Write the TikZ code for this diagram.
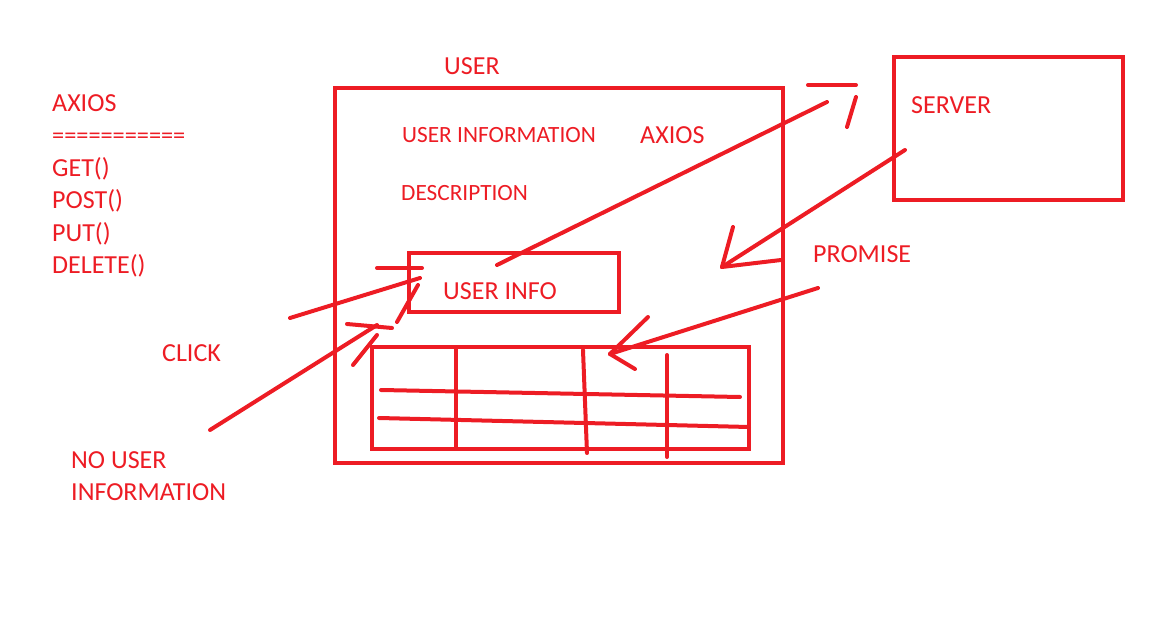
\documentclass[tikz,border=0pt]{standalone}
\usepackage{fontspec}
\setmainfont{Carlito}
\definecolor{paintred}{RGB}{237,28,36}
\begin{document}
\begin{tikzpicture}[x=1pt, y=-1pt,
  box/.style={shape=rectangle, draw=paintred, line width=4pt, inner sep=0pt},
  lbl/.style={anchor=base west, inner sep=0pt, text=paintred, font=\fontsize{26}{30}\selectfont},
  lblsmall/.style={lbl, font=\fontsize{23.3}{27}\selectfont},
  stroke/.style={draw=paintred, line width=4pt, line cap=round}]
\useasboundingbox (0,0) rectangle (1152,639);
% boxes
\node[box, minimum width=448pt, minimum height=375pt] (user) at (559,275.5) {};
\node[box, minimum width=229pt, minimum height=143pt] (server) at (1008.5,128.5) {};
\node[box, minimum width=210pt, minimum height=59pt] (info) at (514,282.5) {};
\node[box, minimum width=377pt, minimum height=102pt] (table) at (560.5,398) {};
% texts
\node[lbl] (usertitle) at (444,75) {USER};
\node[lbl] (axioslist) at (52,112) {AXIOS};
\node[lbl, font=\fontsize{24.3}{28}\selectfont] (rule) at (52,144) {===========};
\node[lbl] (get) at (52,177) {GET()};
\node[lbl] (post) at (52,209) {POST()};
\node[lbl] (put) at (52,242) {PUT()};
\node[lbl] (delete) at (52,274) {DELETE()};
\node[lblsmall] (userinformation) at (402,143) {USER INFORMATION};
\node[lbl] (axios) at (640,144) {AXIOS};
\node[lblsmall] (description) at (401,201) {DESCRIPTION};
\node[lbl] (servertext) at (911,114) {SERVER};
\node[lbl] (promise) at (813,263) {PROMISE};
\node[lbl] (infotext) at (443,300) {USER INFO};
\node[lbl] (click) at (162,361) {CLICK};
\node[lbl] (nouser) at (71,468) {NO USER};
\node[lbl] (noinfo) at (71,500) {INFORMATION};
% table grid
\coordinate (h1a) at (381,390); \coordinate (h1b) at (740,397);
\coordinate (h2a) at (379,418); \coordinate (h2b) at (749,427);
\coordinate (v1a) at (456,348); \coordinate (v1b) at (456,447);
\coordinate (v2a) at (583,350); \coordinate (v2b) at (587,453);
\coordinate (v3a) at (667,355); \coordinate (v3b) at (667,457);
\path [stroke] (h1a) edge (h1b);
\path [stroke] (h2a) edge (h2b);
\path [stroke] (v1a) edge (v1b);
\path [stroke] (v2a) edge (v2b);
\path [stroke] (v3a) edge (v3b);
% request to server
\coordinate (req0) at (497,265); \coordinate (req1) at (827,102);
\coordinate (reqh1) at (808,85); \coordinate (reqh2) at (856,85); \coordinate (reqh3) at (856,97); \coordinate (reqh4) at (847,127);
\path [stroke] (req0) edge (req1);
\path [stroke] (reqh1) edge (reqh2);
\path [stroke] (reqh3) edge (reqh4);
% response from server
\coordinate (res0) at (905,150); \coordinate (res1) at (722,267);
\coordinate (resh1) at (733,227); \coordinate (resh2) at (781,260);
\path [stroke] (res0) edge (res1);
\path [stroke] (resh1) edge (res1);
\path [stroke] (res1) edge (resh2);
% promise
\coordinate (pro0) at (818,288); \coordinate (pro1) at (610,354);
\coordinate (proh1) at (648,317); \coordinate (proh2) at (635,369);
\path [stroke] (pro0) edge (pro1);
\path [stroke] (proh1) edge (pro1);
\path [stroke] (pro1) edge (proh2);
% click
\coordinate (cl0) at (290,318); \coordinate (cl1) at (420,278);
\coordinate (clh1) at (377,268); \coordinate (clh2) at (422,268); \coordinate (clh3) at (418,285); \coordinate (clh4) at (397,322);
\path [stroke] (cl0) edge (cl1);
\path [stroke] (clh1) edge (clh2);
\path [stroke] (clh3) edge (clh4);
% no user information
\coordinate (nu0) at (210,430); \coordinate (nu1) at (377,325);
\coordinate (nuh1) at (347,324); \coordinate (nuh2) at (392,328); \coordinate (nuh3) at (377,335); \coordinate (nuh4) at (353,365);
\path [stroke] (nu0) edge (nu1);
\path [stroke] (nuh1) edge (nuh2);
\path [stroke] (nuh3) edge (nuh4);
\end{tikzpicture}
\end{document}
